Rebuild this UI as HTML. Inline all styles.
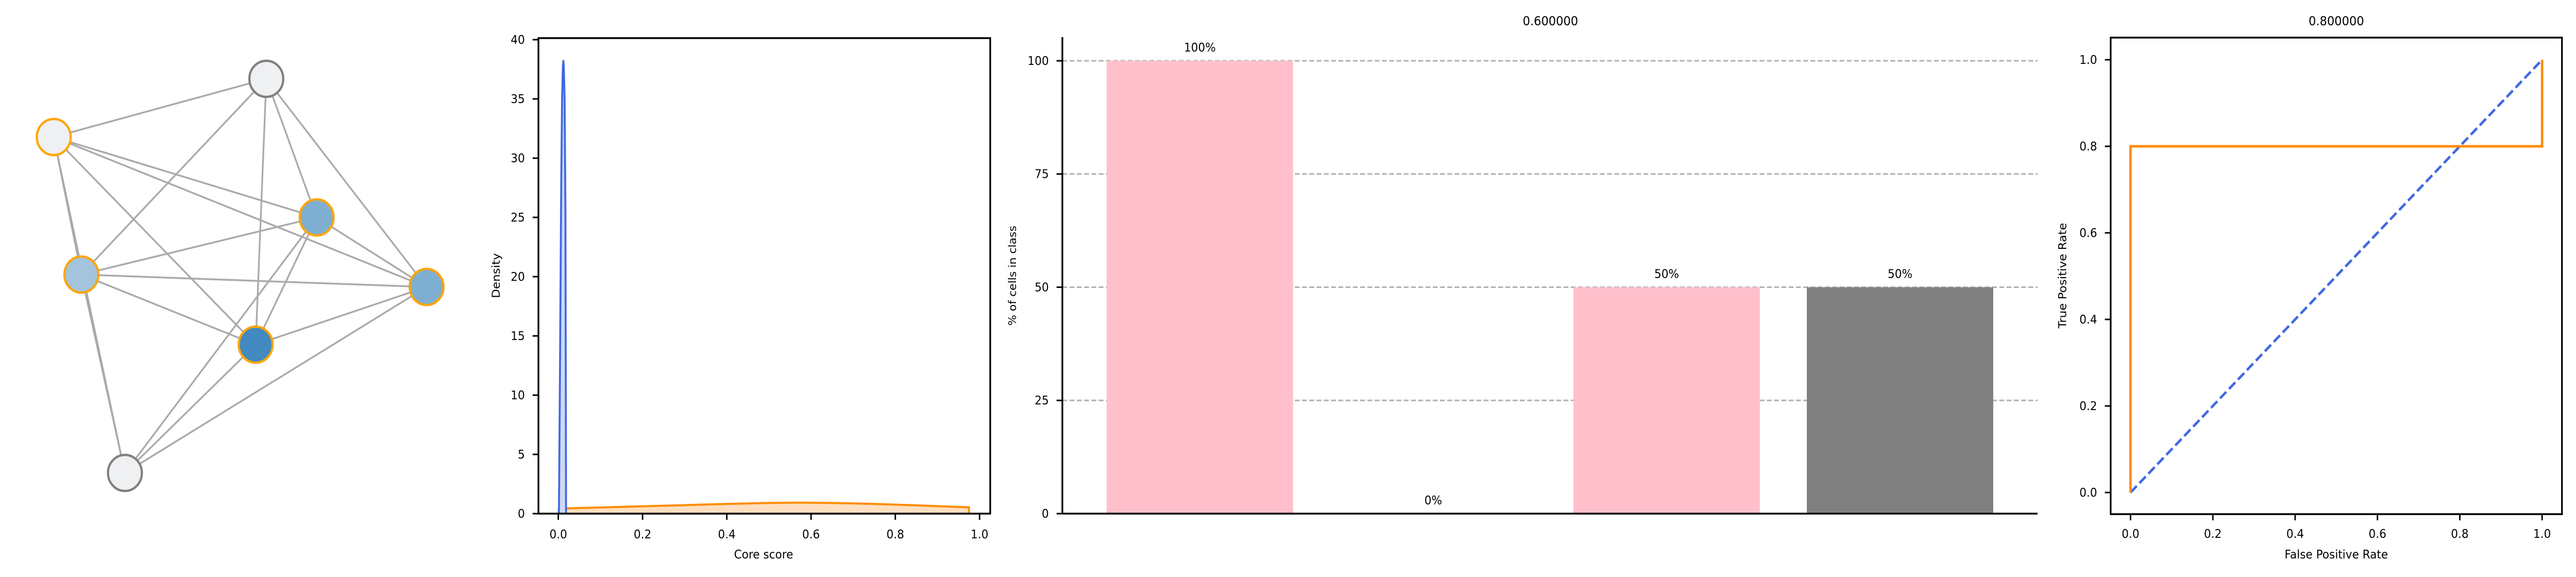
<!DOCTYPE html>
<html><head><meta charset="utf-8"><style>
html,body{margin:0;padding:0;background:#fff;overflow:hidden;width:100%;height:100%;}
svg{display:block;position:fixed;left:0;top:0;width:100vw;height:100vh;}
text{font-family:"DejaVu Sans","Liberation Sans",sans-serif;fill:#000;}
</style></head><body>
<svg id="fig" viewBox="0 0 5320 1120" preserveAspectRatio="none" xmlns="http://www.w3.org/2000/svg">
<g id="net"></g>
<g id="dens"></g>
<g id="bars"></g>
<g id="roc"></g>
</svg>
<script>
// ---------- data ----------
const nodeNames = ["n1","n2","n3","n4","n5","n6","n7"];
const nodeX = [550,111,654,168,881,528,258];
const nodeY = [153,266,422,533,557,669,918];
const nodeFill = ["#eff0f2","#eff0f2","#7fafd0","#a4c3dc","#7fafd0","#438ac0","#eff0f2"];
const nodeEdge = ["#808080","#ffa500","#ffa500","#ffa500","#ffa500","#ffa500","#808080"];
const edgesFrom = [0,0,0,0,0,1,1,1,1,1,3,3,3,3,2,2,2,4,4,5];
const edgesTo   = [1,3,5,2,4,2,4,5,3,6,2,4,5,6,4,5,6,5,6,6];

const densTicksX = [0,0.2,0.4,0.6,0.8,1.0];
const densTickLabelsX = ["0.0","0.2","0.4","0.6","0.8","1.0"];
const densTicksY = [0,5,10,15,20,25,30,35,40];
const blueX = [0.0015,0.004,0.007,0.009,0.011,0.012,0.013,0.015,0.017,0.0184];
const blueY = [0,12,28,35,37.8,38.2,37.8,35,25,0];
const orangeX = [0.001,0.1,0.2,0.3,0.4,0.5,0.57,0.65,0.75,0.85,0.975];
const orangeY = [0.43,0.52,0.62,0.72,0.82,0.9,0.93,0.9,0.82,0.7,0.53];

const barCats = ["a","b","c","d"];
const barVals = [100,0,50,50];
const barLabels = ["100%","0%","50%","50%"];
const barColors = ["#ffc0cb","#ffc0cb","#ffc0cb","#808080"];
const barTicksY = [0,25,50,75,100];

const rocFpr = [0,0,1,1];
const rocTpr = [0,0.8,0.8,1];
const diagX = [0,1];
const diagY = [0,1];
const rocTicks = [0,0.2,0.4,0.6,0.8,1.0];
const rocTickLabels = ["0.0","0.2","0.4","0.6","0.8","1.0"];

// ---------- helpers ----------
const NS="http://www.w3.org/2000/svg";
function mk(parent,tag,attrs,txt){const e=document.createElementNS(NS,tag);for(const k in attrs)e.setAttribute(k,attrs[k]);if(txt!==undefined)e.textContent=txt;parent.appendChild(e);return e;}

// ---------- network ----------
const net=document.getElementById('net');
for(let i=0;i<edgesFrom.length;i++){
  const a=edgesFrom[i],b=edgesTo[i];
  const l=mk(net,'line',{x1:nodeX[a],y1:nodeY[a],x2:nodeX[b],y2:nodeY[b],stroke:'#aaaaaa','stroke-width':3.5});
  
  
}
for(let i=0;i<nodeX.length;i++){
  const c=mk(net,'circle',{cx:nodeX[i],cy:nodeY[i],r:35,fill:nodeFill[i],stroke:nodeEdge[i],'stroke-width':4.5});
  
  
}

// ---------- density ----------
const dens=document.getElementById('dens');
const dL=1112,dR=2045,dT=74,dB=997;
const dx=v=>1153+v*870, dy=v=>dB-v*23.0;
function area(g,xs,ys,fill,stroke,name){
  let d='M'+dx(xs[0])+','+dy(0);
  for(let i=0;i<xs.length;i++) d+=' L'+dx(xs[i])+','+dy(ys[i]);
  d+=' L'+dx(xs[xs.length-1])+','+dy(0)+' Z';
  const f=mk(g,'path',{d:d,fill:fill,stroke:'none'});
  
  
  let p='M'+dx(xs[0])+','+dy(0);
  for(let i=0;i<xs.length;i++) p+=' L'+dx(xs[i])+','+dy(ys[i]);
  p+=' L'+dx(xs[xs.length-1])+','+dy(0);
  const l=mk(g,'path',{d:p,fill:'none',stroke:stroke,'stroke-width':4,'stroke-linejoin':'round'});
  
  
}
area(dens,orangeX,orangeY,'#ffdfbf','#ff8c00','kde-orange');
area(dens,blueX,blueY,'#cfd9f5','#4169e1','kde-blue');
mk(dens,'rect',{x:dL,y:dT,width:dR-dL,height:dB-dT,fill:'none',stroke:'#000','stroke-width':3.5});
for(let i=0;i<densTicksX.length;i++){
  const x=dx(densTicksX[i]);
  mk(dens,'line',{x1:x,y1:dB,x2:x,y2:dB+12,stroke:'#000','stroke-width':3});
  const t=mk(dens,'text',{x:x,y:1045,'font-size':23,'text-anchor':'middle'},densTickLabelsX[i]);
  
  
}
for(let i=0;i<densTicksY.length;i++){
  const y=dy(densTicksY[i]);
  mk(dens,'line',{x1:dL-12,y1:y,x2:dL,y2:y,stroke:'#000','stroke-width':3});
  const t=mk(dens,'text',{x:1084,y:y+8,'font-size':23,'text-anchor':'end'},String(densTicksY[i]));
  
  
}
mk(dens,'text',{x:1577,y:1084,'font-size':23,'text-anchor':'middle',},'Core score');
mk(dens,'text',{x:1032,y:535,'font-size':23,'text-anchor':'middle',transform:'rotate(-90 1032 535)',},'Density');

// ---------- bars ----------
const bars=document.getElementById('bars');
const bL=2194,bR=4208,bB=997,bT=72;
const bx=i=>2478+i*482, by=v=>bB-v*8.79;
for(let i=1;i<barTicksY.length;i++){
  const g=mk(bars,'line',{x1:bL,y1:by(barTicksY[i]),x2:bR,y2:by(barTicksY[i]),stroke:'#b0b0b0','stroke-width':3,'stroke-dasharray':'10 5'});
  
  
}
for(let i=0;i<barCats.length;i++){
  const r=mk(bars,'rect',{x:bx(i)-192.5,y:by(barVals[i]),width:385,height:bB-by(barVals[i]),fill:barColors[i]});
  
  
  const t=mk(bars,'text',{x:bx(i),y:by(barVals[i])-18,'font-size':23,'text-anchor':'middle'},barLabels[i]);
  
  
}
mk(bars,'line',{x1:bL,y1:bT,x2:bL,y2:bB,stroke:'#000','stroke-width':3.5});
mk(bars,'line',{x1:bL,y1:bB,x2:bR,y2:bB,stroke:'#000','stroke-width':3.5});
for(let i=0;i<barTicksY.length;i++){
  const y=by(barTicksY[i]);
  mk(bars,'line',{x1:bL-12,y1:y,x2:bL,y2:y,stroke:'#000','stroke-width':3});
  const t=mk(bars,'text',{x:2166,y:y+8,'font-size':23,'text-anchor':'end'},String(barTicksY[i]));
  
  
}
mk(bars,'text',{x:3202,y:49,'font-size':24,'text-anchor':'middle',},'0.600000');
mk(bars,'text',{x:2098,y:535,'font-size':22,'text-anchor':'middle',transform:'rotate(-90 2098 535)',},'% of cells in class');

// ---------- roc ----------
const roc=document.getElementById('roc');
const rL=4359,rR=5291,rT=73,rB=998;
const rx=v=>4400+v*850, ry=v=>956-v*840;
let dd='';
for(let i=0;i<diagX.length;i++) dd+=(i?' L':'M')+rx(diagX[i])+','+ry(diagY[i]);
mk(roc,'path',{d:dd,fill:'none',stroke:'#4169e1','stroke-width':5,'stroke-dasharray':'18 8',});
let rp='';
for(let i=0;i<rocFpr.length;i++) rp+=(i?' L':'M')+rx(rocFpr[i])+','+ry(rocTpr[i]);
mk(roc,'path',{d:rp,fill:'none',stroke:'#ff8c00','stroke-width':5,});
mk(roc,'rect',{x:rL,y:rT,width:rR-rL,height:rB-rT,fill:'none',stroke:'#000','stroke-width':3.5,});
for(let i=0;i<rocTicks.length;i++){
  const x=rx(rocTicks[i]);
  mk(roc,'line',{x1:x,y1:rB,x2:x,y2:rB+12,stroke:'#000','stroke-width':3});
  const t=mk(roc,'text',{x:x,y:1044,'font-size':23,'text-anchor':'middle'},rocTickLabels[i]);
  
  
  const y=ry(rocTicks[i]);
  mk(roc,'line',{x1:rL-12,y1:y,x2:rL,y2:y,stroke:'#000','stroke-width':3});
  const u=mk(roc,'text',{x:4331,y:y+8,'font-size':23,'text-anchor':'end'},rocTickLabels[i]);
  
  
}
mk(roc,'text',{x:4825,y:49,'font-size':24,'text-anchor':'middle',},'0.800000');
mk(roc,'text',{x:4825,y:1084,'font-size':23,'text-anchor':'middle',},'False Positive Rate');
mk(roc,'text',{x:4267,y:535,'font-size':23,'text-anchor':'middle',transform:'rotate(-90 4267 535)',},'True Positive Rate');
</script>
</body></html>
